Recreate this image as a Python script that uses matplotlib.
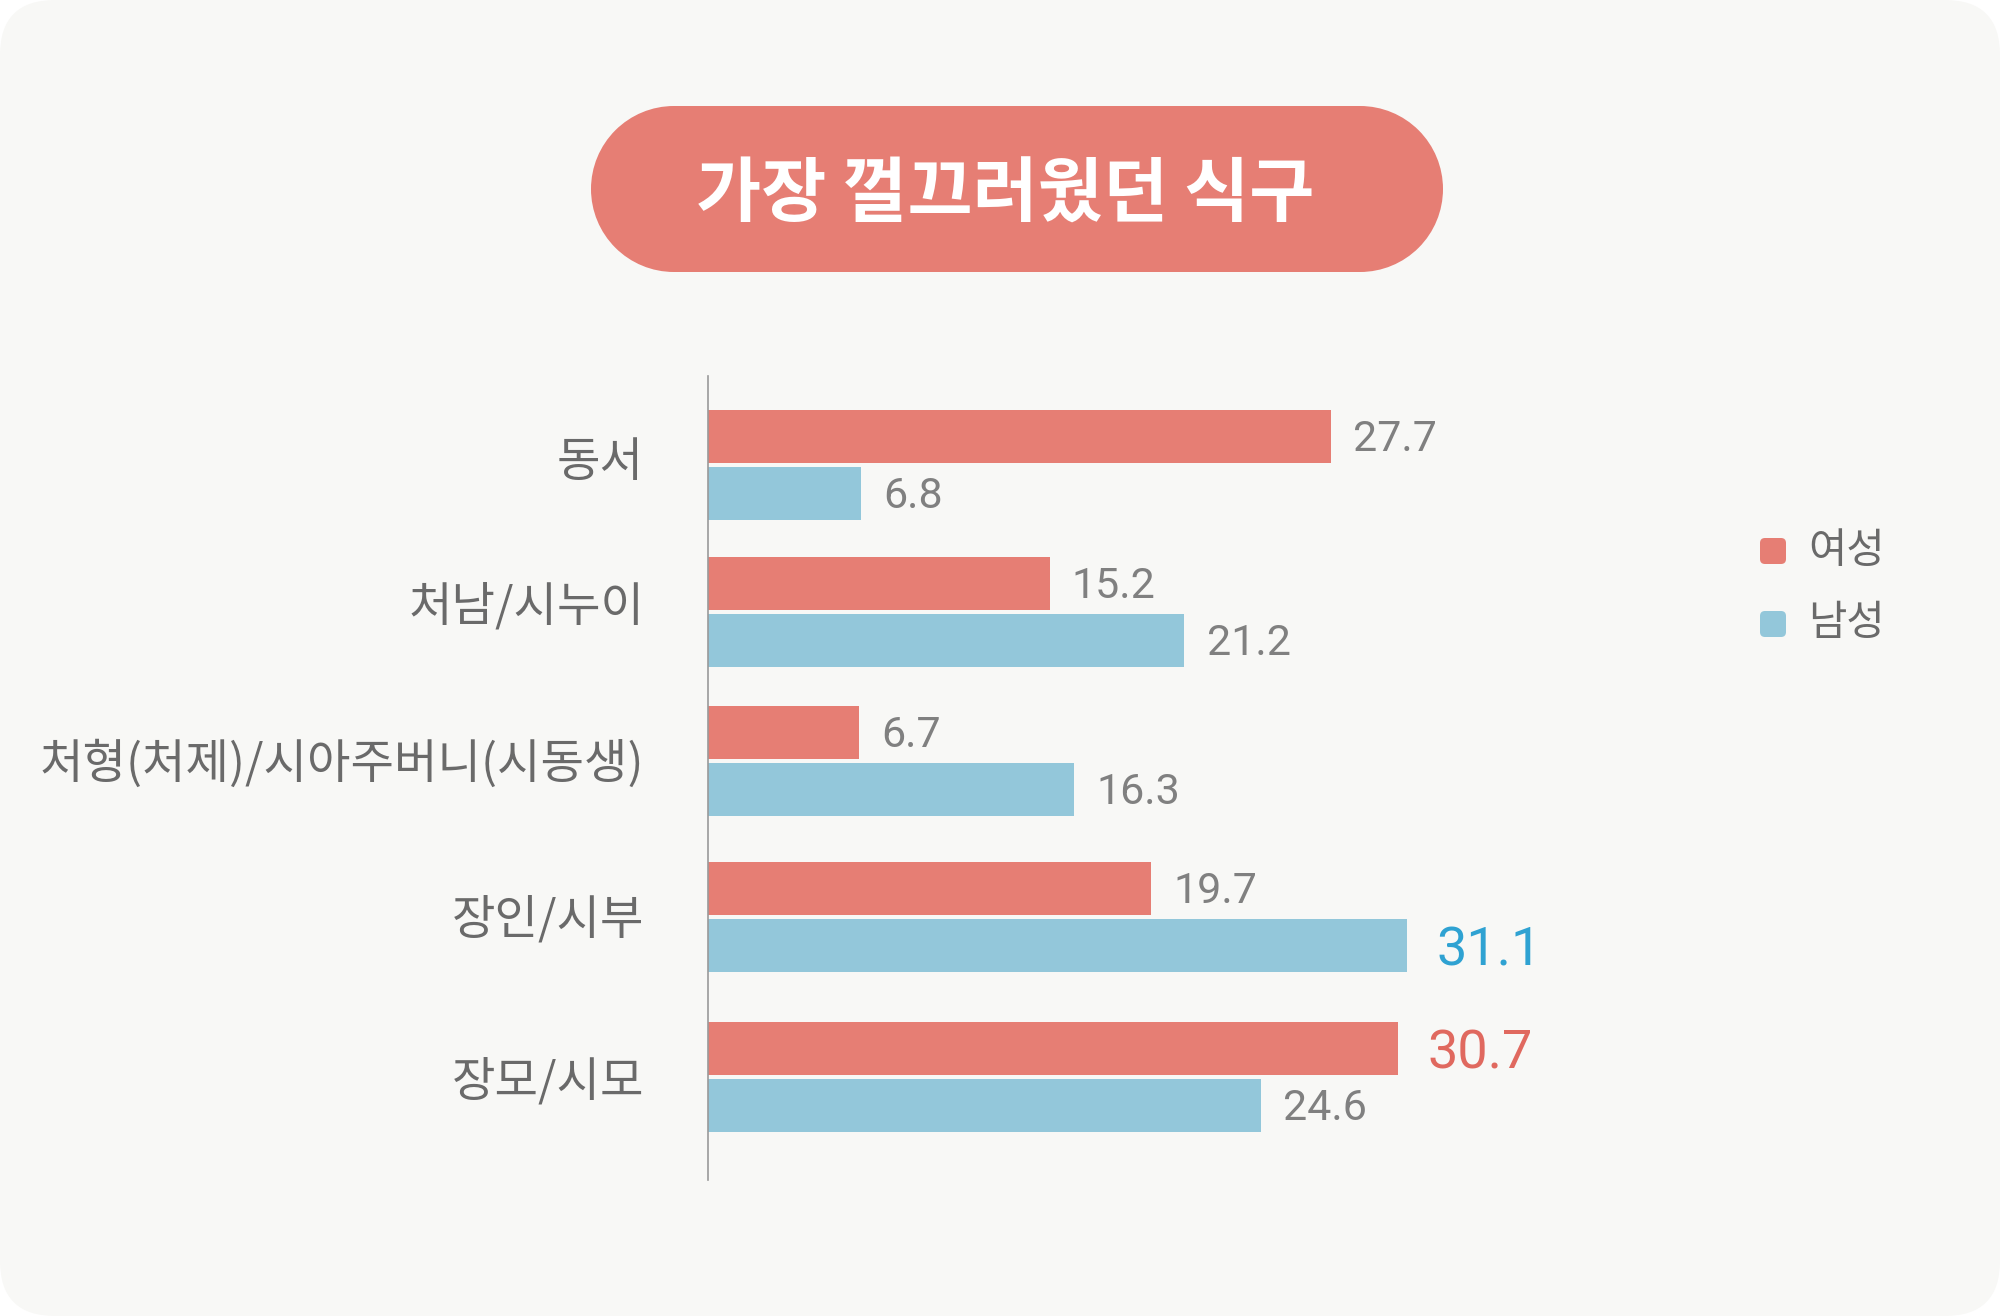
import matplotlib
matplotlib.use("Agg")
import matplotlib.pyplot as plt
from matplotlib.patches import FancyBboxPatch, Rectangle, Circle
import numpy as np

plt.rcParams['font.family'] = ['Noto Sans CJK KR', 'DejaVu Sans']

title = "가장 껄끄러웠던 식구"
categories = ["동서", "처남/시누이", "처형(처제)/시아주버니(시동생)", "장인/시부", "장모/시모"]
female = [27.7, 15.2, 6.7, 19.7, 30.7]
male = [6.8, 21.2, 16.3, 31.1, 24.6]
series_names = ["여성", "남성"]
highlight_female = 4   # index of highlighted female value
highlight_male = 3     # index of highlighted male value

RED = "#E67E74"
BLUE = "#93C7DA"
RED_TXT = "#E0695F"
BLUE_TXT = "#2FA2D2"
GREY_LBL = "#6A6A6A"
GREY_VAL = "#808080"
BG = "#F8F8F6"

W, H = 2000, 1316
fig = plt.figure(figsize=(W / 100, H / 100), dpi=100)
fig.patch.set_facecolor("white")

# background overlay axes in pixel coordinates
bg = fig.add_axes([0, 0, 1, 1], zorder=0)
bg.set_xlim(0, W)
bg.set_ylim(H, 0)
bg.axis("off")
bg.add_patch(FancyBboxPatch((0, 0), W, H, boxstyle="round,pad=0,rounding_size=55",
                            facecolor=BG, edgecolor="none"))
# title pill (rectangle + semicircular ends)
px0, px1, py0, py1 = 591, 1443, 106, 272
r = (py1 - py0) / 2
bg.add_patch(Rectangle((px0 + r, py0), px1 - px0 - 2 * r, py1 - py0, facecolor=RED, edgecolor="none"))
bg.add_patch(Circle((px0 + r, py0 + r), r, facecolor=RED, edgecolor="none"))
bg.add_patch(Circle((px1 - r, py0 + r), r, facecolor=RED, edgecolor="none"))
bg.text(1005, 196, title, ha="center", va="center", color="white",
        fontsize=51, fontweight="black")

# legend
for k, (name, col) in enumerate(zip(series_names, [RED, BLUE])):
    cy = 551 + k * 73
    bg.add_patch(FancyBboxPatch((1760, cy - 13), 26, 26,
                                boxstyle="round,pad=0,rounding_size=5",
                                facecolor=col, edgecolor="none"))
    bg.text(1808, cy, name, ha="left", va="center", fontsize=30, color=GREY_LBL)

# chart axes (y in pixel units of the figure, top to bottom)
ax_left, ax_right = 708, 1607
ax_top, ax_bot = 376, 1180
ax = fig.add_axes([ax_left / W, 1 - ax_bot / H, (ax_right - ax_left) / W, (ax_bot - ax_top) / H],
                  zorder=2)
ax.set_facecolor("none")
ax.set_xlim(0, 40)
ax.set_ylim(ax_bot, ax_top)

y = np.array([465, 612, 761, 917, 1077])   # group centre positions (layout)
off = 28.7
bh = 52.5
ax.barh(y - off, female, height=bh, color=RED, zorder=2)
ax.barh(y + off, male, height=bh, color=BLUE, zorder=2)

for sp in ["top", "right", "bottom"]:
    ax.spines[sp].set_visible(False)
ax.spines["left"].set_color("#9A9A9A")
ax.spines["left"].set_linewidth(1.2)
ax.set_xticks([])
ax.set_yticks(y - np.array([8, 10, 2, 2, 0]))
ax.set_yticklabels(categories, fontsize=34, color=GREY_LBL)
ax.tick_params(axis="y", length=0, pad=46)

num_family = ['Roboto', 'DejaVu Sans']

def put(val, yy, hl, color):
    if hl:
        ax.annotate(f"{val}", (val, yy), xytext=(21, -4), textcoords="offset points",
                    ha="left", va="center", fontsize=39, color=color, family=num_family)
    else:
        ax.annotate(f"{val}", (val, yy), xytext=(16, -2), textcoords="offset points",
                    ha="left", va="center", fontsize=31, color=GREY_VAL, family=num_family)

for i in range(len(categories)):
    put(female[i], y[i] - off, i == highlight_female, RED_TXT)
    put(male[i], y[i] + off, i == highlight_male, BLUE_TXT)

fig.savefig("out.png", dpi=100, facecolor=fig.get_facecolor())
